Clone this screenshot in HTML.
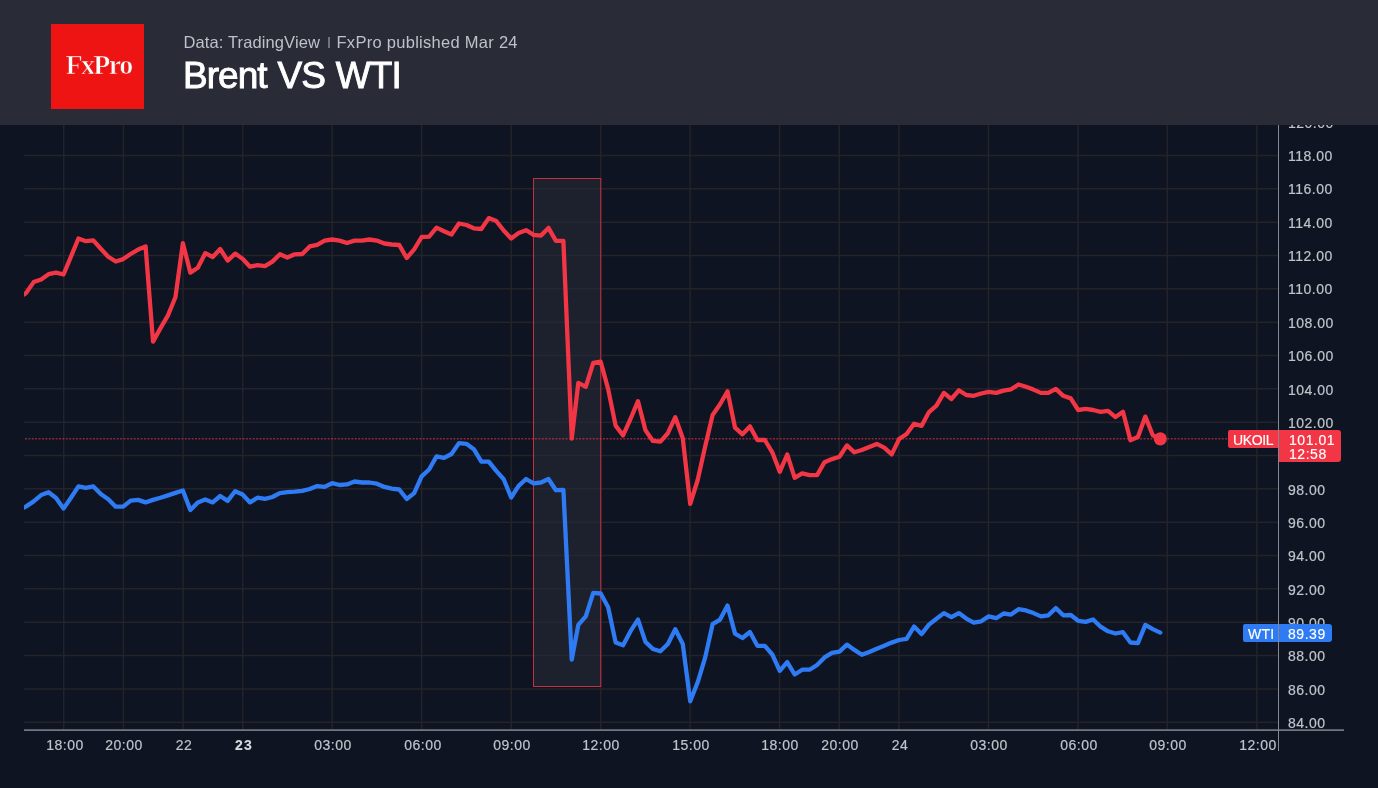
<!DOCTYPE html>
<html><head><meta charset="utf-8"><style>
*{margin:0;padding:0;box-sizing:border-box}
html,body{width:1378px;height:788px;overflow:hidden;background:#0e1421;font-family:"Liberation Sans",sans-serif}
#wrap{position:relative;width:1378px;height:788px}
.yl,.xl,.tag,#hdr{will-change:transform}
.yl{position:absolute;left:1287.7px;font-size:14px;line-height:16px;color:#c0c3ca;letter-spacing:0.5px;-webkit-text-stroke:0.2px #c0c3ca}
.xl{position:absolute;top:737.3px;width:80px;text-align:center;font-size:14px;line-height:16px;color:#c0c3ca;letter-spacing:0.5px;-webkit-text-stroke:0.2px #c0c3ca}
.xl.b{font-weight:bold;color:#d8dae0;letter-spacing:1.2px}
#hdr{position:absolute;left:0;top:0;width:1378px;height:125px;background:#292b37}
#logo{position:absolute;left:51px;top:24px;width:93px;height:85px;background:#ee1414}
#logo span{position:absolute;left:1px;top:26px;width:93px;text-align:center;font-family:"Liberation Serif",serif;font-weight:bold;font-size:28px;line-height:30px;color:#fff;letter-spacing:-1.6px;-webkit-text-stroke:0.7px #ee1414}
#sub{position:absolute;left:183.5px;top:32px;font-size:16.5px;line-height:20px;color:#bec1c8;letter-spacing:0.12px}
#sub2{position:absolute;left:336.5px;top:32px;font-size:16.5px;line-height:20px;color:#bec1c8;letter-spacing:0.28px}
#sep{position:absolute;left:328.2px;top:37px;width:1.8px;height:10.8px;background:#70737c}
#title{position:absolute;left:183px;top:55px;font-size:37px;line-height:42px;color:#fff;-webkit-text-stroke:0.9px #fff;letter-spacing:-0.95px;word-spacing:1.5px}
.tag{position:absolute;color:#fff;font-size:14px;line-height:16px;border-radius:2px;letter-spacing:0.55px;-webkit-text-stroke:0.15px #fff}
</style></head><body><div id="wrap">
<svg width="1378" height="788" viewBox="0 0 1378 788" style="position:absolute;left:0;top:0"><defs><clipPath id="c"><rect x="24" y="0" width="1254" height="730"/></clipPath></defs><path d="M24 722.21H1278 M24 688.88H1278 M24 655.54H1278 M24 622.20H1278 M24 588.87H1278 M24 555.53H1278 M24 522.20H1278 M24 488.86H1278 M24 455.52H1278 M24 422.19H1278 M24 388.85H1278 M24 355.52H1278 M24 322.18H1278 M24 288.84H1278 M24 255.51H1278 M24 222.17H1278 M24 188.84H1278 M24 155.50H1278 M24 122.16H1278 M63.73 0V730 M123.39 0V730 M183.05 0V730 M242.70 0V730 M332.19 0V730 M421.67 0V730 M511.15 0V730 M600.64 0V730 M690.12 0V730 M779.61 0V730 M839.26 0V730 M898.92 0V730 M988.40 0V730 M1077.89 0V730 M1167.37 0V730 M1256.86 0V730" stroke="#242329" stroke-width="1.5" fill="none"/><rect x="533.5" y="178.5" width="67.3" height="508" fill="#282c39" fill-opacity="0.55" stroke="#f23645" stroke-opacity="0.8" stroke-width="1"/><path d="M25 438.7H1228" stroke="#f23645" stroke-opacity="0.6" stroke-width="1.6" stroke-dasharray="1.9 1.5" /><g clip-path="url(#c)"><polyline points="18.74,510.5 26.20,506.4 33.66,501.4 41.12,495.1 48.58,492.2 56.04,498.0 63.50,508.6 70.97,497.7 78.43,486.4 85.89,487.9 93.35,486.4 100.81,494.1 108.27,499.2 115.73,506.7 123.19,506.7 130.65,500.6 138.12,499.9 145.58,502.4 153.04,499.9 160.50,497.8 167.96,495.4 175.42,492.9 182.88,490.5 190.34,510.1 197.80,502.4 205.26,499.5 212.72,502.4 220.19,496.0 227.65,500.9 235.11,491.2 242.57,494.5 250.03,502.4 257.49,497.7 264.95,498.9 272.41,497.0 279.87,493.1 287.33,492.2 294.80,491.6 302.26,490.8 309.72,489.0 317.18,486.1 324.64,486.9 332.10,483.2 339.56,485.0 347.02,484.4 354.48,481.5 361.94,482.5 369.41,482.5 376.87,483.7 384.33,486.9 391.79,488.7 399.25,489.5 406.71,499.0 414.17,493.1 421.63,476.4 429.09,469.5 436.56,456.4 444.02,457.9 451.48,454.0 458.94,443.1 466.40,443.8 473.86,449.2 481.32,461.6 488.78,461.6 496.24,470.9 503.70,479.3 511.17,497.5 518.63,485.9 526.09,479.0 533.55,483.4 541.01,482.5 548.47,479.0 555.93,490.2 563.39,489.8 571.75,659.6 578.31,624.9 585.78,616.3 593.24,592.9 600.70,593.5 608.16,607.2 615.62,642.4 623.08,645.2 630.54,631.2 638.00,619.6 645.46,641.9 652.92,649.0 660.39,651.3 667.85,644.0 675.31,629.2 682.77,644.0 690.23,701.3 697.69,682.3 705.15,657.6 712.61,624.2 720.07,619.6 727.53,605.6 735.00,633.6 742.46,638.0 749.92,632.0 757.38,645.8 764.84,645.8 772.30,654.5 779.76,670.8 787.22,662.1 794.68,674.5 802.14,669.7 809.61,669.7 817.07,665.0 824.53,657.4 831.99,652.8 839.45,651.6 846.91,644.6 854.37,649.9 861.83,654.8 869.29,651.9 876.75,648.7 884.22,645.8 891.68,642.6 899.14,640.0 906.60,638.8 914.06,626.6 921.52,634.1 928.98,624.6 936.44,618.7 943.90,613.1 951.36,617.1 958.83,613.1 966.29,618.6 973.75,622.6 981.21,621.3 988.67,616.4 996.13,618.2 1003.59,613.5 1011.05,614.6 1018.51,609.2 1025.97,610.4 1033.43,613.1 1040.90,616.4 1048.36,615.3 1055.82,608.1 1063.28,615.3 1070.74,615.0 1078.20,620.8 1085.66,621.9 1093.12,619.5 1100.58,626.7 1108.05,631.3 1115.51,633.5 1122.97,632.2 1130.43,642.5 1137.89,643.1 1145.35,624.9 1152.81,629.1 1160.27,632.6" fill="none" stroke="#2e7bf4" stroke-width="4.3" stroke-linejoin="round" stroke-linecap="round"/><polyline points="18.74,298.0 26.20,292.9 33.66,282.1 41.12,279.4 48.58,274.2 56.04,272.6 63.50,274.5 70.97,256.7 78.43,238.5 85.89,241.2 93.35,240.4 100.81,248.8 108.27,256.7 115.73,261.5 123.19,259.1 130.65,254.0 138.12,249.6 145.58,246.4 153.04,341.6 160.50,328.1 167.96,315.4 175.42,297.2 182.88,243.2 190.34,272.6 197.80,267.8 205.26,253.2 212.72,257.0 220.19,249.0 227.65,260.6 235.11,253.6 242.57,258.7 250.03,266.7 257.49,265.2 264.95,266.2 272.41,261.6 279.87,254.3 287.33,257.5 294.80,254.3 302.26,254.0 309.72,246.4 317.18,244.9 324.64,240.6 332.10,239.5 339.56,240.6 347.02,243.0 354.48,240.6 361.94,240.6 369.41,239.5 376.87,240.6 384.33,243.5 391.79,244.5 399.25,245.0 406.71,258.0 414.17,249.3 421.63,237.0 429.09,236.6 436.56,227.6 444.02,231.2 451.48,234.5 458.94,223.5 466.40,225.0 473.86,228.3 481.32,229.0 488.78,218.1 496.24,221.0 503.70,230.5 511.17,238.5 518.63,233.1 526.09,230.2 533.55,234.8 541.01,235.6 548.47,227.9 555.93,240.9 563.39,240.9 571.75,438.6 578.31,382.9 585.78,386.8 593.24,362.8 600.70,361.7 608.16,389.1 615.62,425.6 623.08,435.4 630.54,418.8 638.00,401.2 645.46,430.2 652.92,440.9 660.39,441.6 667.85,433.2 675.31,417.2 682.77,438.2 690.23,503.9 697.69,480.0 705.15,446.5 712.61,415.0 720.07,404.3 727.53,391.3 735.00,427.6 742.46,434.3 749.92,426.4 757.38,440.0 764.84,440.0 772.30,452.3 779.76,471.8 787.22,454.5 794.68,477.8 802.14,473.3 809.61,475.1 817.07,475.1 824.53,462.2 831.99,459.1 839.45,456.8 846.91,445.4 854.37,452.3 861.83,450.0 869.29,446.9 876.75,443.9 884.22,447.7 891.68,454.4 899.14,439.1 906.60,433.9 914.06,423.7 921.52,425.9 928.98,412.1 936.44,405.6 943.90,392.9 951.36,399.0 958.83,390.3 966.29,395.0 973.75,395.8 981.21,393.5 988.67,391.8 996.13,392.9 1003.59,390.6 1011.05,389.3 1018.51,384.5 1025.97,386.7 1033.43,389.6 1040.90,392.9 1048.36,392.9 1055.82,388.9 1063.28,395.8 1070.74,398.4 1078.20,410.0 1085.66,408.9 1093.12,410.0 1100.58,411.8 1108.05,410.9 1115.51,417.1 1122.97,411.8 1130.43,440.2 1137.89,437.1 1145.35,416.6 1152.81,435.3 1160.27,438.8" fill="none" stroke="#f23645" stroke-width="4.3" stroke-linejoin="round" stroke-linecap="round"/></g><circle cx="1160.3" cy="438.8" r="6.6" fill="#f23645"/><path d="M24 730.2H1344" stroke="#73767f" stroke-width="1.7" fill="none"/></svg>
<div class="yl" style="top:714.8px">84.00</div><div class="yl" style="top:681.5px">86.00</div><div class="yl" style="top:648.1px">88.00</div><div class="yl" style="top:614.8px">90.00</div><div class="yl" style="top:581.5px">92.00</div><div class="yl" style="top:548.1px">94.00</div><div class="yl" style="top:514.8px">96.00</div><div class="yl" style="top:481.5px">98.00</div><div class="yl" style="top:414.8px">102.00</div><div class="yl" style="top:381.5px">104.00</div><div class="yl" style="top:348.1px">106.00</div><div class="yl" style="top:314.8px">108.00</div><div class="yl" style="top:281.4px">110.00</div><div class="yl" style="top:248.1px">112.00</div><div class="yl" style="top:214.8px">114.00</div><div class="yl" style="top:181.4px">116.00</div><div class="yl" style="top:148.1px">118.00</div><div class="yl" style="top:114.8px">120.00</div>
<div class="xl" style="left:24.5px">18:00</div><div class="xl" style="left:84.2px">20:00</div><div class="xl" style="left:143.8px">22</div><div class="xl b" style="left:203.5px">23</div><div class="xl" style="left:293.0px">03:00</div><div class="xl" style="left:382.5px">06:00</div><div class="xl" style="left:472.0px">09:00</div><div class="xl" style="left:561.4px">12:00</div><div class="xl" style="left:650.9px">15:00</div><div class="xl" style="left:740.4px">18:00</div><div class="xl" style="left:800.1px">20:00</div><div class="xl" style="left:859.7px">24</div><div class="xl" style="left:949.2px">03:00</div><div class="xl" style="left:1038.7px">06:00</div><div class="xl" style="left:1128.2px">09:00</div><div class="xl" style="left:1217.7px">12:00</div>
<div class="tag" style="left:1228px;top:430px;width:51px;height:18px;background:#f23645;padding:2px 0 0 5px;letter-spacing:-0.35px;border-radius:2px 0 0 2px">UKOIL</div>
<div class="tag" style="left:1278px;top:430px;width:63px;height:32px;background:#f23645;padding:2.8px 0 0 11px;border-radius:0 3px 3px 0;line-height:14.6px">101.01<br>12:58</div>
<div class="tag" style="left:1243px;top:624px;width:36px;height:18px;background:#2e7bf4;padding:2px 0 0 5px;letter-spacing:0.2px;border-radius:2px 0 0 2px">WTI</div>
<div class="tag" style="left:1278px;top:624px;width:54px;height:18px;background:#2e7bf4;padding:2px 0 0 10px;border-radius:0 3px 3px 0">89.39</div>
<div style="position:absolute;left:1278px;top:0;width:1px;height:751px;background:#868992"></div>
<div id="hdr">
<div id="logo"><span>FxPro</span></div>
<div id="sub">Data: TradingView</div><div id="sep"></div><div id="sub2">FxPro published Mar 24</div>
<div id="title">Brent VS WTI</div>
</div>
</div></body></html>
